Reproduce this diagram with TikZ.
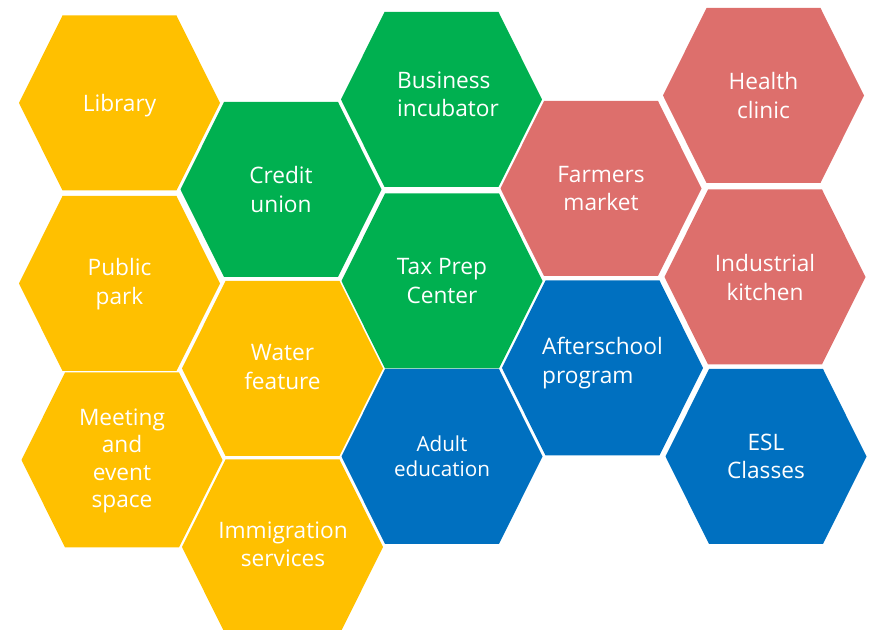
\documentclass[tikz,border=0pt]{standalone}
\usepackage{fontspec}
\setmainfont{Open Sans}
\definecolor{hexyellow}{HTML}{FFC000}
\definecolor{hexgreen}{HTML}{00B050}
\definecolor{hexred}{HTML}{DD6F6C}
\definecolor{hexblue}{HTML}{0070C0}
\begin{document}
\begin{tikzpicture}[x=0.75pt,y=-0.75pt,
  hex/.style={fill=#1},
  cell/.style={text=white,align=center,inner sep=0pt,font=\fontsize{17}{21.4}\selectfont}]
\useasboundingbox (0,0) rectangle (869,630);
\clip (0,0) rectangle (869,630);
% first column
\begin{scope}[shift={(119.5,103)}]
\fill[hex=hexyellow] (-100.5,0) -- (-57,-87.5) -- (57,-87.5) -- (100.5,0) -- (57,87.5) -- (-57,87.5) -- cycle;
\node[cell] (library) at (0,2.5) {Library};
\end{scope}
\begin{scope}[shift={(119.5,283.5)}]
\fill[hex=hexyellow] (-100.5,0) -- (-57,-87.5) -- (57,-87.5) -- (100.5,0) -- (57,87.5) -- (-57,87.5) -- cycle;
\node[cell] (park) at (0,0.5) {Public\\park};
\end{scope}
\begin{scope}[shift={(122,460)}]
\fill[hex=hexyellow] (-100.5,0) -- (-57,-87.5) -- (57,-87.5) -- (100.5,0) -- (57,87.5) -- (-57,87.5) -- cycle;
\node[cell,font=\fontsize{17}{20.5}\selectfont] (meeting) at (0,1) {Meeting\\and\\event\\space};
\end{scope}
% second column
\begin{scope}[shift={(281,189.5)}]
\fill[hex=hexgreen] (-100.5,0) -- (-57,-87.5) -- (57,-87.5) -- (100.5,0) -- (57,87.5) -- (-57,87.5) -- cycle;
\node[cell] (credit) at (0,0) {Credit\\union};
\end{scope}
\begin{scope}[shift={(282.5,368.5)}]
\fill[hex=hexyellow] (-100.5,0) -- (-57,-87.5) -- (57,-87.5) -- (100.5,0) -- (57,87.5) -- (-57,87.5) -- cycle;
\node[cell] (water) at (0,-1.5) {Water\\feature};
\end{scope}
\begin{scope}[shift={(282.5,547)}]
\fill[hex=hexyellow] (-100.5,0) -- (-57,-87.5) -- (57,-87.5) -- (100.5,0) -- (57,87.5) -- (-57,87.5) -- cycle;
\node[cell] (immigration) at (0.5,-2.5) {Immigration\\services};
\end{scope}
% third column
\begin{scope}[shift={(441.5,99.5)}]
\fill[hex=hexgreen] (-100.5,0) -- (-57,-87.5) -- (57,-87.5) -- (100.5,0) -- (57,87.5) -- (-57,87.5) -- cycle;
\node[cell,align=left] (incubator) at (6.5,-5) {Business\\incubator};
\end{scope}
\begin{scope}[shift={(442,281)}]
\fill[hex=hexgreen] (-100.5,0) -- (-57,-87.5) -- (57,-87.5) -- (100.5,0) -- (57,87.5) -- (-57,87.5) -- cycle;
\node[cell] (taxprep) at (0,0) {Tax Prep\\Center};
\end{scope}
\begin{scope}[shift={(442,456.5)}]
\fill[hex=hexblue] (-100.5,0) -- (-57,-87.5) -- (57,-87.5) -- (100.5,0) -- (57,87.5) -- (-57,87.5) -- cycle;
\node[cell,font=\fontsize{15.5}{18.4}\selectfont] (adulted) at (0,0) {Adult\\education};
\end{scope}
% fourth column
\begin{scope}[shift={(601,188.5)}]
\fill[hex=hexred] (-100.5,0) -- (-57,-87.5) -- (57,-87.5) -- (100.5,0) -- (57,87.5) -- (-57,87.5) -- cycle;
\node[cell] (farmers) at (0,0) {Farmers\\market};
\end{scope}
\begin{scope}[shift={(602.5,368)}]
\fill[hex=hexblue] (-100.5,0) -- (-57,-87.5) -- (57,-87.5) -- (100.5,0) -- (57,87.5) -- (-57,87.5) -- cycle;
\node[cell,align=left] (afterschool) at (0,-5) {Afterschool\\program};
\end{scope}
% fifth column
\begin{scope}[shift={(763.5,95.5)}]
\fill[hex=hexred] (-100.5,0) -- (-57,-87.5) -- (57,-87.5) -- (100.5,0) -- (57,87.5) -- (-57,87.5) -- cycle;
\node[cell] (health) at (0,0) {Health\\clinic};
\end{scope}
\begin{scope}[shift={(765,277)}]
\fill[hex=hexred] (-100.5,0) -- (-57,-87.5) -- (57,-87.5) -- (100.5,0) -- (57,87.5) -- (-57,87.5) -- cycle;
\node[cell] (kitchen) at (0,0.5) {Industrial\\kitchen};
\end{scope}
\begin{scope}[shift={(766,456.5)}]
\fill[hex=hexblue] (-100.5,0) -- (-57,-87.5) -- (57,-87.5) -- (100.5,0) -- (57,87.5) -- (-57,87.5) -- cycle;
\node[cell] (esl) at (0,0) {ESL\\Classes};
\end{scope}
\end{tikzpicture}
\end{document}
